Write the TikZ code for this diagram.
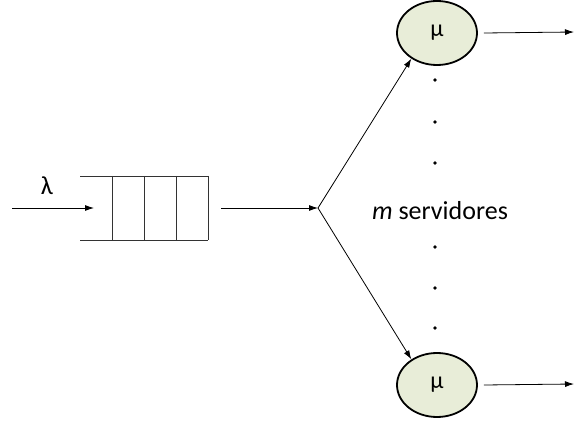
\documentclass[tikz,border=0pt]{standalone}
\usepackage{fontspec}
\setmainfont{Carlito}
\usetikzlibrary{arrows.meta,shapes.geometric}
\definecolor{srvfill}{HTML}{E8EDD8}
\begin{document}
\begin{tikzpicture}[x=1pt,y=-1pt,
  conn/.style={-{Latex[length=9pt,width=6pt]}, line width=0.8pt},
  qline/.style={line width=0.8pt, draw=black!80},
  server/.style={ellipse, draw, line width=1.8pt, fill=srvfill, minimum width=80pt, minimum height=64pt, inner sep=0pt, font=\fontsize{24}{26}\selectfont},
  dotmark/.style={circle, fill=black, inner sep=0pt, minimum size=3.6pt},
  lbl/.style={font=\fontsize{26}{30}\selectfont}]
\useasboundingbox (0,0) rectangle (574,425);
% queue
\draw[qline] (80,176) -- (208,176);
\draw[qline] (80,240) -- (208,240);
\foreach \x in {112,144,176,208} \draw[qline] (\x,176) -- (\x,240);
\coordinate (in) at (12,208);
\coordinate (qin) at (94,208);
\coordinate (qout) at (221,208);
\coordinate (j) at (318,208);
\node[lbl] (lam) at (47,186) {λ};
\draw[conn] (in) -- (qin);
\draw[conn] (qout) -- (j);
% servers
\node[server] (s1) at (437,33) {μ};
\node[server] (s2) at (437,385) {μ};
\coordinate (o1) at (574,32);
\coordinate (o2) at (574,384);
\draw[conn] (j) -- (s1.225);
\draw[conn] (j) -- (s2.135);
\draw[conn] (s1.east) ++(6,0) coordinate (s1o) (s1o) -- (o1);
\draw[conn] (s2.east) ++(6,0) coordinate (s2o) (s2o) -- (o2);
\foreach \y/\n in {80/a,122/b,163/c,247/d,288/e,328/f} \node[dotmark] (d\n) at (435,\y) {};
\node[lbl] (m) at (440,211) {\textit{m} servidores};
\end{tikzpicture}
\end{document}
